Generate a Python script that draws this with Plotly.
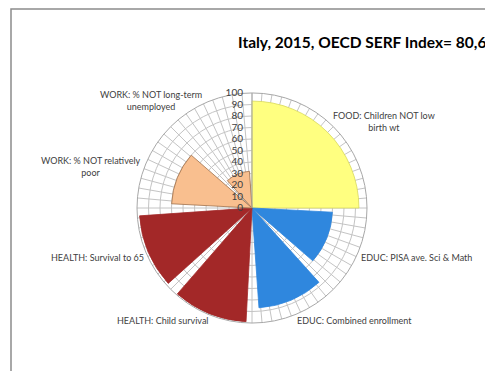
import plotly.graph_objects as go

W, H = 485, 371

title = "Italy, 2015, OECD SERF Index= 80,6"
categories = [
    "FOOD: Children NOT low birth wt",
    "EDUC: PISA ave. Sci & Math",
    "EDUC: Combined enrollment",
    "HEALTH: Child survival",
    "HEALTH: Survival to 65",
    "WORK: % NOT relatively poor",
    "WORK: % NOT long-term unemployed",
]
values = [93, 70, 87, 99, 98, 70, 32]
domains = ["FOOD", "EDUC", "EDUC", "HEALTH", "HEALTH", "WORK", "WORK"]
radial_ticks = list(range(0, 101, 10))

colors = {"FOOD": "#FFFF80", "EDUC": "#2F87DE", "HEALTH": "#A32828", "WORK": "#F9BF8F"}
edge = {"FOOD": "#D8D860", "EDUC": "#2F87DE", "HEALTH": "#A32828", "WORK": "#A0704A"}

# angular layout: food gets a quarter, others 45-degree slots with a small gap
thetas, widths = [], []
for i in range(len(categories)):
    if i == 0:
        thetas.append(45)
        widths.append(90)
    else:
        s = 90 + 45 * (i - 1)
        thetas.append(s + 22)
        widths.append(38)

fig = go.Figure()
fig.add_trace(go.Barpolar(
    r=values,
    theta=thetas,
    width=widths,
    marker=dict(color=[colors[d] for d in domains],
                line=dict(color=[edge[d] for d in domains], width=0.8)),
    hoverinfo="text",
    text=categories,
))

cx, cy, R = 252, 208, 115
fig.update_layout(
    width=W, height=H,
    margin=dict(l=0, r=0, t=0, b=0),
    paper_bgcolor="white",
    showlegend=False,
    font=dict(family="Lato, Carlito, sans-serif", color="#404040"),
    polar=dict(
        domain=dict(x=[(cx - R) / W, (cx + R) / W], y=[(H - cy - R) / H, (H - cy + R) / H]),
        bgcolor="white",
        bargap=0,
        angularaxis=dict(
            rotation=90, direction="clockwise",
            tickmode="linear", tick0=0, dtick=5,
            showticklabels=False, ticks="",
            gridcolor="#C4C4C4", gridwidth=0.7,
            linecolor="#A8A8A8", linewidth=1,
            layer="above traces",
        ),
        radialaxis=dict(
            range=[0, 100],
            tickvals=radial_ticks,
            ticktext=[str(v) for v in radial_ticks],
            angle=90, tickangle=90, side="counterclockwise",
            ticks="outside", ticklen=5, tickcolor="rgba(0,0,0,0)",
            tickfont=dict(size=10, color="#404040"),
            gridcolor="#C4C4C4", gridwidth=0.7,
            showline=True, linecolor="#A8A8A8", linewidth=1,
            layer="above traces",
        ),
    ),
)

def px(x, y):
    return x / W, 1 - y / H

labels = [
    ("FOOD: Children NOT low<br>birth wt", 384, 122),
    ("EDUC: PISA ave. Sci & Math", 416, 257),
    ("EDUC: Combined enrollment", 354, 320),
    ("HEALTH: Child survival", 162, 320),
    ("HEALTH: Survival to 65", 97, 257),
    ("WORK: % NOT relatively<br>poor", 91, 166),
    ("WORK: % NOT long-term<br>unemployed", 151, 100),
]
for txt, x, y in labels:
    ax, ay = px(x, y)
    fig.add_annotation(x=ax, y=ay, xref="paper", yref="paper", text=txt,
                       showarrow=False, xanchor="center", yanchor="middle",
                       align="center", font=dict(size=9, color="#404040"))

tx, ty = px(236, 42)
fig.add_annotation(x=tx, y=ty, xref="paper", yref="paper", text="<b>" + title + "</b>",
                   showarrow=False, xanchor="left", yanchor="middle",
                   font=dict(size=15.5, color="#000000"))

# chart-area frame (cut off at right and bottom in the reference)
fig.add_shape(type="rect", xref="paper", yref="paper",
              x0=11 / W, y0=-0.2, x1=1.2, y1=1 - 9 / H,
              line=dict(color="#8C8C8C", width=1.5), fillcolor="rgba(0,0,0,0)")

fig.write_html("out.html")
